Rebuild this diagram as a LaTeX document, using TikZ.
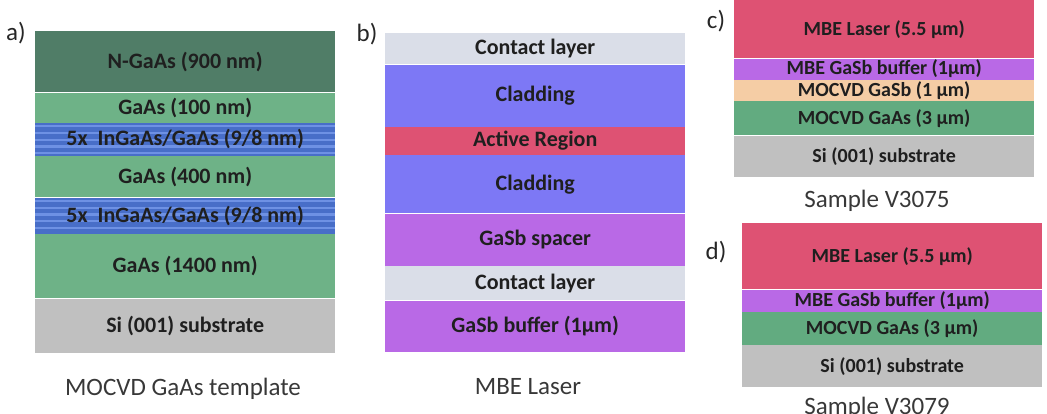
\documentclass[tikz,border=0pt]{standalone}
\usepackage{fontspec}
\setmainfont{Carlito}
\usepackage{xcolor}
\usetikzlibrary{positioning,calc}

\definecolor{ngaas}{RGB}{80,125,103}
\definecolor{gaas}{RGB}{110,178,135}
\definecolor{qwblue}{RGB}{72,110,200}
\definecolor{qwlight}{RGB}{110,145,228}
\definecolor{subst}{RGB}{192,192,192}
\definecolor{contact}{RGB}{218,222,232}
\definecolor{clad}{RGB}{125,120,245}
\definecolor{active}{RGB}{222,82,115}
\definecolor{gasb}{RGB}{185,105,230}
\definecolor{mgasb}{RGB}{245,205,165}
\definecolor{mgaas}{RGB}{98,171,128}

\begin{document}
\begin{tikzpicture}[x=1pt, y=-1pt, node distance=0pt,
		layer/.style={rectangle, inner sep=0pt, minimum width=300pt, text=black!88,
			font=\bfseries\fontsize{22}{22}\selectfont},
		small/.style={layer, font=\bfseries\fontsize{20}{20}\selectfont},
		qwell/.style={layer, fill=qwblue, path picture={
			\foreach \k in {0,...,4}
				\fill[qwlight] ($(path picture bounding box.north west)+(0,\k*6.8+2)$) rectangle ++(300,2.2);
		}},
		caption/.style={anchor=base, text=black!78, font=\fontsize{25}{26}\selectfont},
		panel/.style={anchor=base, text=black!85, font=\fontsize{25}{26}\selectfont}]
		\useasboundingbox (0,0) rectangle (1047,414);

		% a) MOCVD GaAs template
		\node[layer, fill=ngaas, minimum height=61pt, anchor=north west] (a1) at (35,31) {N-GaAs (900 nm)};
		\node[layer, fill=gaas, minimum height=30pt, below=of a1] (a2) {GaAs (100 nm)};
		\node[qwell, minimum height=33pt, below=of a2] (a3) {5x\ \ InGaAs/GaAs (9/8 nm)};
		\node[layer, fill=gaas, minimum height=41pt, below=of a3] (a4) {GaAs (400 nm)};
		\node[qwell, minimum height=36pt, below=of a4] (a5) {5x\ \ InGaAs/GaAs (9/8 nm)};
		\node[layer, fill=gaas, minimum height=64pt, below=of a5] (a6) {GaAs (1400 nm)};
		\node[layer, fill=subst, minimum height=54pt, below=of a6] (a7) {Si (001) substrate};
		\node[panel] (la) at (16,41) {a)};
		\node[caption] (capa) at (183,395) {MOCVD GaAs template};

		% b) MBE laser
		\node[layer, fill=contact, minimum height=31pt, anchor=north west] (b1) at (385,33) {Contact layer};
		\node[layer, fill=clad, minimum height=62pt, below=of b1] (b2) {Cladding};
		\node[layer, fill=active, minimum height=28pt, below=of b2] (b3) {Active Region};
		\node[layer, fill=clad, minimum height=58pt, below=of b3] (b4) {Cladding};
		\node[layer, fill=gasb, minimum height=52pt, below=of b4] (b5) {GaSb spacer};
		\node[layer, fill=contact, minimum height=34pt, below=of b5] (b6) {Contact layer};
		\node[layer, fill=gasb, minimum height=51pt, below=of b6] (b7) {GaSb buffer (1µm)};
		\node[panel] (lb) at (367,42) {b)};
		\node[caption] (capb) at (528,394) {MBE Laser};

		% c) sample V3075
		\node[small, fill=active, minimum height=58pt, anchor=north west] (c1) at (734,0) {MBE Laser (5.5 µm)};
		\node[small, fill=gasb, minimum height=21pt, below=of c1] (c2) {MBE GaSb buffer (1µm)};
		\node[small, fill=mgasb, minimum height=21pt, below=of c2] (c3) {MOCVD GaSb (1 µm)};
		\node[small, fill=mgaas, minimum height=34pt, below=of c3] (c4) {MOCVD GaAs (3 µm)};
		\node[small, fill=subst, minimum height=41pt, below=of c4] (c5) {Si (001) substrate};
		\node[panel] (lc) at (716,29) {c)};
		\node[caption] (capc) at (877,208) {Sample V3075};

		% d) sample V3079
		\node[small, fill=active, minimum height=66pt, anchor=north west] (d1) at (742,223) {MBE Laser (5.5 µm)};
		\node[small, fill=gasb, minimum height=22pt, below=of d1] (d2) {MBE GaSb buffer (1µm)};
		\node[small, fill=mgaas, minimum height=33pt, below=of d2] (d3) {MOCVD GaAs (3 µm)};
		\node[small, fill=subst, minimum height=42pt, below=of d3] (d4) {Si (001) substrate};
		\node[panel] (ld) at (716,259) {d)};
		\node[caption] (capd) at (877,414) {Sample V3079};
	\end{tikzpicture}
\end{document}
